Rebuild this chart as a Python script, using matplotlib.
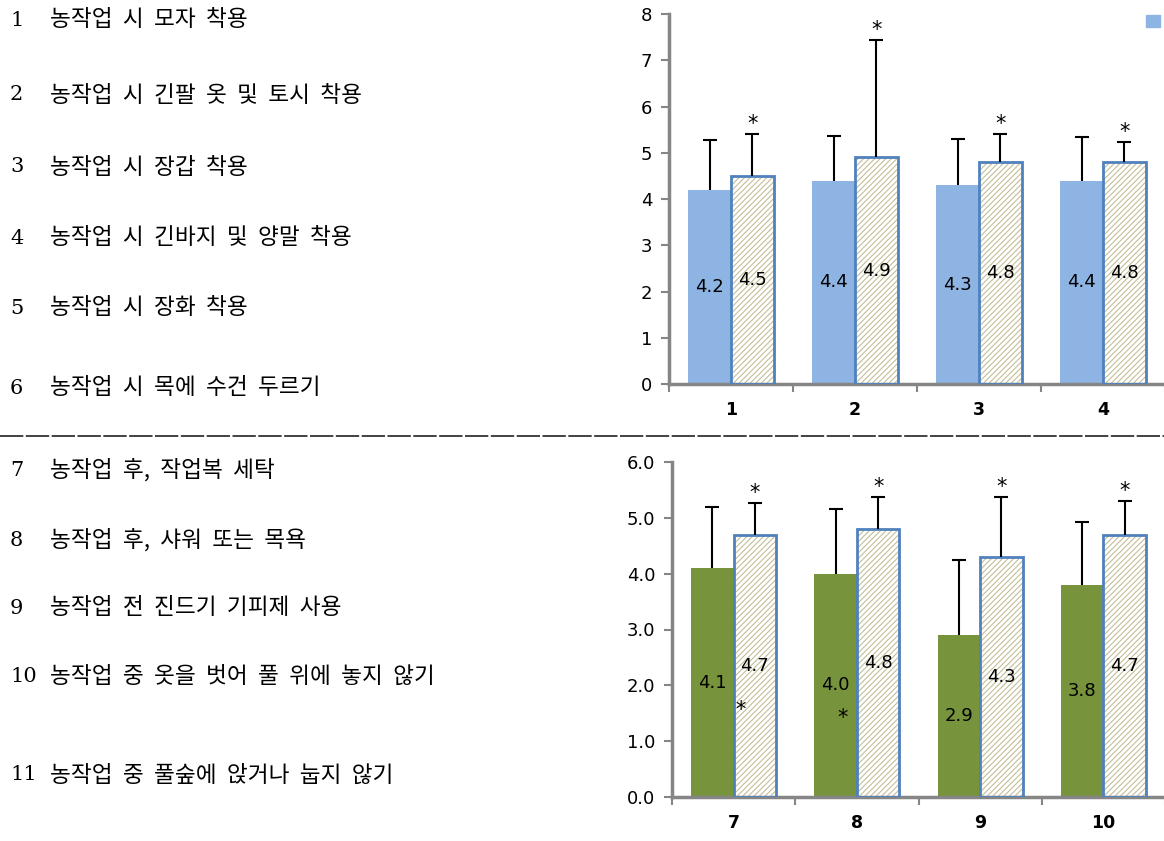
import matplotlib
matplotlib.use("Agg")
import matplotlib.pyplot as plt
import numpy as np

plt.rcParams['font.family'] = ['DejaVu Sans']
plt.rcParams['hatch.linewidth'] = 0.8

# ---- data ----
top_labels = ["1", "2", "3", "4"]
top_before = [4.2, 4.4, 4.3, 4.4]
top_before_err = [1.07, 0.97, 1.0, 0.93]
top_after = [4.5, 4.9, 4.8, 4.8]
top_after_err = [0.9, 2.53, 0.6, 0.43]
top_yticks = [0, 1, 2, 3, 4, 5, 6, 7, 8]

bot_labels = ["7", "8", "9", "10"]
bot_before = [4.1, 4.0, 2.9, 3.8]
bot_before_err = [1.1, 1.15, 1.35, 1.12]
bot_after = [4.7, 4.8, 4.3, 4.7]
bot_after_err = [0.57, 0.57, 1.07, 0.6]
bot_yticks = [0.0, 1.0, 2.0, 3.0, 4.0, 5.0, 6.0]

items_top = ["농작업 시 모자 착용", "농작업 시 긴팔 옷 및 토시 착용", "농작업 시 장갑 착용",
             "농작업 시 긴바지 및 양말 착용", "농작업 시 장화 착용", "농작업 시 목에 수건 두르기"]
items_bot = ["농작업 후, 작업복 세탁", "농작업 후, 샤워 또는 목욕", "농작업 전 진드기 기피제 사용",
             "농작업 중 옷을 벗어 풀 위에 놓지 않기", "농작업 중 풀숲에 앉거나 눕지 않기"]
item_nums_top = ["1", "2", "3", "4", "5", "6"]
item_nums_bot = ["7", "8", "9", "10", "11"]

BLUE = "#8eb4e3"
GREEN = "#77933c"
EDGE = "#4f81bd"
HATCH = "#c4bd97"
SPINE = "#868686"

fig = plt.figure(figsize=(11.64, 8.41), dpi=100)


def errbars(ax, xs, vals, errs):
    _, caps, _ = ax.errorbar(xs, vals, yerr=[np.zeros(len(vals)), errs], fmt='none',
                             ecolor='black', elinewidth=1.5, capsize=5, capthick=1.5, zorder=4)
    if len(caps) == 2:
        caps[0].set_visible(False)


def draw(ax, before, berr, after, aerr, labels, yticks, ymax, col, fmt):
    x = np.arange(len(before))
    w = 0.345
    ax.bar(x - w / 2, before, w, color=col, edgecolor='none', zorder=2)
    ax.bar(x + w / 2, after, w, color='white', edgecolor=HATCH, hatch='//////', linewidth=0, zorder=2)
    ax.bar(x + w / 2, after, w, color='none', edgecolor=EDGE, linewidth=2, zorder=3)
    errbars(ax, x - w / 2, before, berr)
    errbars(ax, x + w / 2, after, aerr)
    for i in range(len(before)):
        ax.text(x[i] - w / 2, before[i] / 2, f"{before[i]:.1f}", ha='center', va='center',
                fontsize=13, zorder=5)
        ax.text(x[i] + w / 2, after[i] / 2, f"{after[i]:.1f}", ha='center', va='center',
                fontsize=13, zorder=5)
        ax.annotate("*", (x[i] + w / 2, after[i] + aerr[i]), xytext=(0, 0),
                    textcoords='offset points', ha='center', va='bottom', fontsize=15, zorder=5)
    ax.set_xlim(-0.5, len(before) - 0.5)
    ax.set_ylim(0, ymax)
    ax.set_yticks(yticks)
    ax.set_yticklabels([fmt.format(v) for v in yticks], fontsize=13)
    ax.set_xticks(x)
    ax.set_xticklabels(labels, fontsize=12.5, fontweight='bold')
    ax.set_xticks(np.arange(-0.5, len(before)), minor=True)
    ax.tick_params(axis='x', which='major', length=0, pad=12)
    ax.tick_params(axis='x', which='minor', length=6, width=1.5, color=SPINE, direction='out')
    ax.tick_params(axis='y', length=6, width=1.5, color=SPINE, direction='out', pad=6)
    for s in ['top', 'right']:
        ax.spines[s].set_visible(False)
    for s in ['left', 'bottom']:
        ax.spines[s].set_color(SPINE)
        ax.spines[s].set_linewidth(2.5)
    return x, w


ax1 = fig.add_axes([669 / 1164, 1 - 384 / 841, 496 / 1164, 370 / 841])
draw(ax1, top_before, top_before_err, top_after, top_after_err, top_labels, top_yticks, 8,
     BLUE, "{:.0f}")

ax2 = fig.add_axes([672 / 1164, 1 - 797 / 841, 493 / 1164, 335 / 841])
x2, w2 = draw(ax2, bot_before, bot_before_err, bot_after, bot_after_err, bot_labels, bot_yticks, 6.0,
              GREEN, "{:.1f}")
# extra asterisks inside bars 7 and 8
ax2.text(x2[0] + 0.06, 1.56, "*", ha='center', va='center', fontsize=15, zorder=6)
ax2.text(x2[1] - 0.12, 1.42, "*", ha='center', va='center', fontsize=15, zorder=6)

# partial legend marker at top-right
fig.patches.append(matplotlib.patches.Rectangle((1146 / 1164, 1 - 27 / 841), 14 / 1164, 12 / 841,
                                                transform=fig.transFigure, color=BLUE))

# left item texts
ytop = [20, 95, 167, 238, 308, 388]
ybot = [470, 540, 608, 676, 775]
kfont = ['Noto Sans CJK KR', 'DejaVu Sans']
for n, t, y in zip(item_nums_top + item_nums_bot, items_top + items_bot, ytop + ybot):
    fig.text(10 / 1164, 1 - y / 841, n, ha='left', va='center', fontsize=15,
             family=['DejaVu Serif'])
    fig.text(50 / 1164, 1 - y / 841, t.replace(" ", "  "), ha='left', va='center', fontsize=16.3,
             family=kfont)

# dashed separator
fig.add_artist(matplotlib.lines.Line2D([0, 1], [1 - 436 / 841, 1 - 436 / 841],
                                       transform=fig.transFigure, color='#222222',
                                       linewidth=1.2, linestyle=(0, (14, 1.5))))

fig.savefig("out.png", dpi=100)
